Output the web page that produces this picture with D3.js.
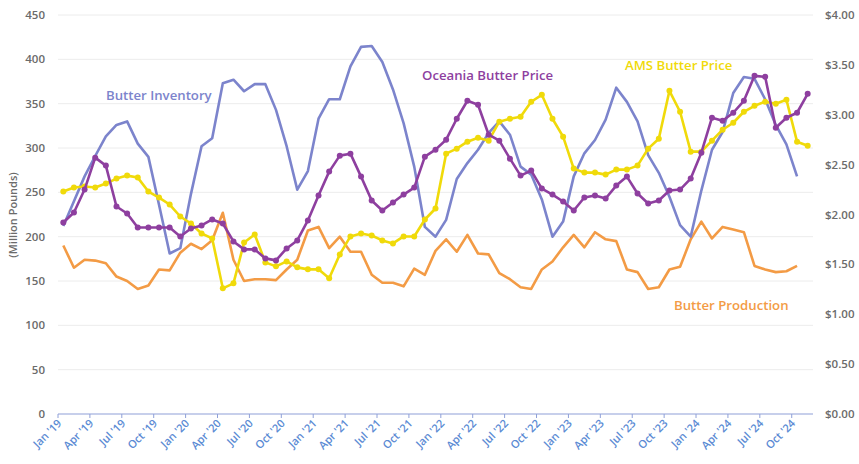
<!DOCTYPE html>
<html>
<head>
<meta charset="utf-8">
<script src="https://cdn.jsdelivr.net/npm/d3@7"></script>
<style>
  body { margin: 0; background: #fff; }
  text { font-family: "Open Sans", sans-serif; }
</style>
</head>
<body>
<div id="chart"></div>
<script>
// monthly categories, Jan '19 .. Nov '24
var monthNames = ["Jan", "Feb", "Mar", "Apr", "May", "Jun", "Jul", "Aug", "Sep", "Oct", "Nov", "Dec"];
var months = [];
for (var yr = 19; yr <= 24; yr++) {
  for (var m = 0; m < 12; m++) {
    if (yr === 24 && m > 10) break;
    months.push(monthNames[m] + " '" + yr);
  }
}

// million pounds (left axis), Jan '19 .. Oct '24
var inventory = [212, 240, 268, 291, 313, 326, 330, 305, 290, 236, 181, 187,
  248, 302, 311, 373, 377, 364, 372, 372, 343, 302, 253, 274,
  333, 355, 355, 392, 414, 415, 397, 366, 328, 279, 211, 200,
  219, 265, 283, 298, 317, 330, 315, 279, 270, 242, 200, 217,
  268, 294, 309, 332, 368, 352, 330, 292, 272, 245, 213, 200,
  252, 298, 318, 362, 380, 378, 355, 326, 304, 268];
var production = [190, 165, 174, 173, 170, 155, 150, 141, 145, 163, 162, 182,
  192, 186, 196, 227, 174, 150, 152, 152, 151, 163, 174, 207,
  211, 187, 200, 183, 183, 157, 148, 148, 144, 164, 157, 184,
  197, 183, 202, 181, 180, 159, 152, 143, 141, 163, 172, 188,
  202, 188, 205, 197, 195, 163, 160, 141, 143, 163, 166, 197,
  217, 198, 211, 208, 205, 167, 163, 160, 161, 167];

// dollars per pound (right axis), Jan '19 .. Nov '24
var oceania = [1.92, 2.02, 2.25, 2.57, 2.49, 2.08, 2.01, 1.87, 1.87, 1.87, 1.87, 1.78,
  1.86, 1.89, 1.95, 1.91, 1.73, 1.65, 1.65, 1.56, 1.54, 1.66, 1.74, 1.94,
  2.19, 2.43, 2.59, 2.61, 2.38, 2.14, 2.04, 2.12, 2.20, 2.27, 2.58, 2.65,
  2.75, 2.96, 3.14, 3.10, 2.80, 2.74, 2.56, 2.39, 2.44, 2.26, 2.20, 2.13,
  2.04, 2.17, 2.19, 2.16, 2.29, 2.38, 2.21, 2.11, 2.14, 2.24, 2.25, 2.36,
  2.62, 2.97, 2.94, 3.02, 3.14, 3.39, 3.38, 2.87, 2.97, 3.02, 3.21];
var ams = [2.23, 2.27, 2.28, 2.27, 2.31, 2.36, 2.39, 2.37, 2.23, 2.17, 2.10, 1.98,
  1.91, 1.81, 1.76, 1.26, 1.31, 1.72, 1.80, 1.52, 1.48, 1.53, 1.47, 1.45,
  1.45, 1.36, 1.60, 1.78, 1.81, 1.79, 1.74, 1.71, 1.78, 1.78, 1.95, 2.06,
  2.61, 2.66, 2.73, 2.77, 2.74, 2.93, 2.96, 2.98, 3.13, 3.20, 2.96, 2.78,
  2.46, 2.42, 2.42, 2.40, 2.45, 2.45, 2.49, 2.66, 2.76, 3.24, 3.03, 2.63,
  2.63, 2.74, 2.85, 2.92, 3.03, 3.09, 3.13, 3.11, 3.15, 2.73, 2.69];

var leftTicks = [0, 50, 100, 150, 200, 250, 300, 350, 400, 450];
var rightTicks = [0, 0.5, 1, 1.5, 2, 2.5, 3, 3.5, 4];

var width = 859, height = 464;
var margin = {top: 15, right: 46, bottom: 50, left: 58};

var svg = d3.select("#chart").append("svg")
  .attr("width", width)
  .attr("height", height);

var x = d3.scaleBand()
  .domain(months)
  .range([margin.left, width - margin.right]);
var cx = function(i) { return x(months[i]) + x.bandwidth() / 2; };

var yL = d3.scaleLinear().domain([0, 450]).range([height - margin.bottom, margin.top]);
var yR = d3.scaleLinear().domain([0, 4]).range([height - margin.bottom, margin.top]);

// gridlines
svg.append("g")
  .selectAll("line")
  .data(leftTicks.slice(1))
  .enter().append("line")
  .attr("x1", margin.left)
  .attr("x2", width - margin.right)
  .attr("y1", function(d) { return yL(d); })
  .attr("y2", function(d) { return yL(d); })
  .attr("stroke", "#ececec")
  .attr("stroke-width", 1);

// left axis labels
svg.append("g")
  .selectAll("text")
  .data(leftTicks)
  .enter().append("text")
  .attr("x", 45)
  .attr("y", function(d) { return yL(d) + 4; })
  .attr("text-anchor", "end")
  .attr("font-size", 11.5)
  .attr("font-weight", 600)
  .attr("fill", "#6b6b6b")
  .text(function(d) { return d; });

// right axis labels
svg.append("g")
  .selectAll("text")
  .data(rightTicks)
  .enter().append("text")
  .attr("x", 825)
  .attr("y", function(d) { return yR(d) + 4; })
  .attr("font-size", 11.5)
  .attr("font-weight", 600)
  .attr("fill", "#6b6b6b")
  .text(function(d) { return "$" + d.toFixed(2); });

// y-axis title
svg.append("text")
  .attr("transform", "translate(17," + 215 + ")rotate(-90)")
  .attr("text-anchor", "middle")
  .attr("font-size", 11)
  .attr("font-weight", 600)
  .attr("fill", "#6b6b6b")
  .text("(Million Pounds)");

// x axis
var xAxis = svg.append("g");
xAxis.append("line")
  .attr("x1", margin.left)
  .attr("x2", width - margin.right)
  .attr("y1", yL(0))
  .attr("y2", yL(0))
  .attr("stroke", "#8fa0d8")
  .attr("stroke-width", 1.2);

var tickIdx = d3.range(0, months.length, 3);
xAxis.selectAll(".tick")
  .data(tickIdx)
  .enter().append("line")
  .attr("x1", function(i) { return x(months[i]); })
  .attr("x2", function(i) { return x(months[i]); })
  .attr("y1", yL(0))
  .attr("y2", yL(0) + 4)
  .attr("stroke", "#8fa0d8")
  .attr("stroke-width", 1);

xAxis.selectAll(".lbl")
  .data(tickIdx)
  .enter().append("text")
  .attr("text-anchor", "end")
  .attr("font-size", 11)
  .attr("font-weight", 600)
  .attr("fill", "#5b8bd4")
  .attr("transform", function(i) { return "translate(" + (cx(i) - 1) + "," + (yL(0) + 10) + ")rotate(-45)"; })
  .text(function(i) { return months[i]; });

// lines
function drawLine(values, scale, color, dots) {
  var line = d3.line()
    .x(function(d, i) { return cx(i); })
    .y(function(d) { return scale(d); });
  svg.append("path")
    .datum(values)
    .attr("d", line)
    .attr("fill", "none")
    .attr("stroke", color)
    .attr("stroke-width", 2.6)
    .attr("stroke-linejoin", "round");
  if (dots) {
    svg.append("g")
      .selectAll("circle")
      .data(values)
      .enter().append("circle")
      .attr("cx", function(d, i) { return cx(i); })
      .attr("cy", function(d) { return scale(d); })
      .attr("r", 3)
      .attr("fill", color);
  }
}

drawLine(production, yL, "#f39b45", false);
drawLine(inventory, yL, "#7c84cc", false);
drawLine(ams, yR, "#f0da0a", true);
drawLine(oceania, yR, "#8e3f9f", true);

// series labels
var labels = [
  {text: "Butter Inventory", x: 106, y: 100, color: "#7c84cc"},
  {text: "Oceania Butter Price", x: 422, y: 80, color: "#8e3f9f"},
  {text: "AMS Butter Price", x: 625, y: 70, color: "#f0da0a"},
  {text: "Butter Production", x: 674, y: 310, color: "#f39b45"}
];
svg.append("g")
  .selectAll("text")
  .data(labels)
  .enter().append("text")
  .attr("x", function(d) { return d.x; })
  .attr("y", function(d) { return d.y; })
  .attr("font-size", 13.2)
  .attr("font-weight", 600)
  .attr("fill", function(d) { return d.color; })
  .text(function(d) { return d.text; });
</script>
</body>
</html>
